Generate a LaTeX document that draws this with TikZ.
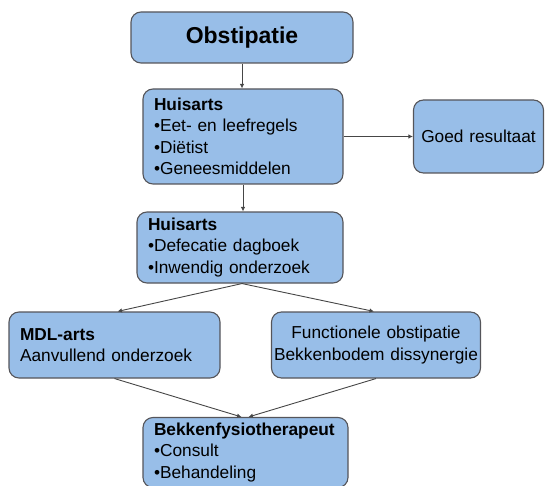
\documentclass[tikz,border=0pt]{standalone}
\usepackage{fontspec}
\setmainfont{Liberation Sans}
\usetikzlibrary{arrows.meta}
\definecolor{boxfill}{RGB}{152,190,232}
\definecolor{boxline}{RGB}{85,85,90}
\definecolor{arrline}{RGB}{70,70,70}
\tikzset{
  box/.style={draw=boxline, line width=1.1pt, fill=boxfill, rounded corners=10pt,
    inner xsep=11pt, inner ysep=0pt, align=left, font=\fontsize{17.3}{21.5}\selectfont},
  conn/.style={draw=arrline, line width=0.9pt, -{Latex[length=4.5pt,width=4.5pt]}}
}
\begin{document}
\begin{tikzpicture}[x=1pt,y=-1pt]
\useasboundingbox (0,0) rectangle (545,486);
\clip (0,0) rectangle (545,486);
\node[box, minimum width=222pt, minimum height=51pt, align=center, text width=200pt,
  font=\fontsize{23}{27}\selectfont\bfseries] (obst) at (242,37.5) {Obstipatie};
\node[box, minimum width=200pt, minimum height=95pt, text width=178pt] (h1) at (243,136.5)
  {\textbf{Huisarts}\\•Eet- en leefregels\\•Diëtist\\•Geneesmiddelen};
\node[box, minimum width=130pt, minimum height=73pt, text width=120pt, inner xsep=5pt, align=center] (goed) at (478.5,136.5)
  {Goed resultaat};
\node[box, minimum width=206pt, minimum height=71pt, text width=184pt] (h2) at (240,247.5)
  {\textbf{Huisarts}\\•Defecatie dagboek\\•Inwendig onderzoek};
\node[box, minimum width=211pt, minimum height=66pt, text width=189pt] (mdl) at (114.5,345)
  {\textbf{MDL-arts}\\Aanvullend onderzoek};
\node[box, minimum width=209pt, minimum height=66pt, text width=205pt, inner xsep=2pt, align=center] (func) at (376,345)
  {Functionele obstipatie\\Bekkenbodem dissynergie};
\node[box, minimum width=205pt, minimum height=70pt, text width=183pt] (bek) at (245.5,452.5)
  {\textbf{Bekkenfysiotherapeut}\\•Consult\\•Behandeling};
\coordinate (bekL) at ([xshift=-4pt]bek.north);
\coordinate (bekR) at ([xshift=3pt]bek.north);
\draw[conn] (obst.south) -- (obst.south |- h1.north);
\draw[conn] (h1.east) -- (goed.west);
\draw[conn] (h1.south) -- (h1.south |- h2.north);
\draw[conn] ([xshift=2pt]h2.south) -- ([xshift=3pt]mdl.north);
\draw[conn] ([xshift=2pt]h2.south) -- ([xshift=-2pt]func.north);
\draw[conn] (mdl.south) -- (bekL);
\draw[conn] (func.south) -- (bekR);
\end{tikzpicture}
\end{document}
